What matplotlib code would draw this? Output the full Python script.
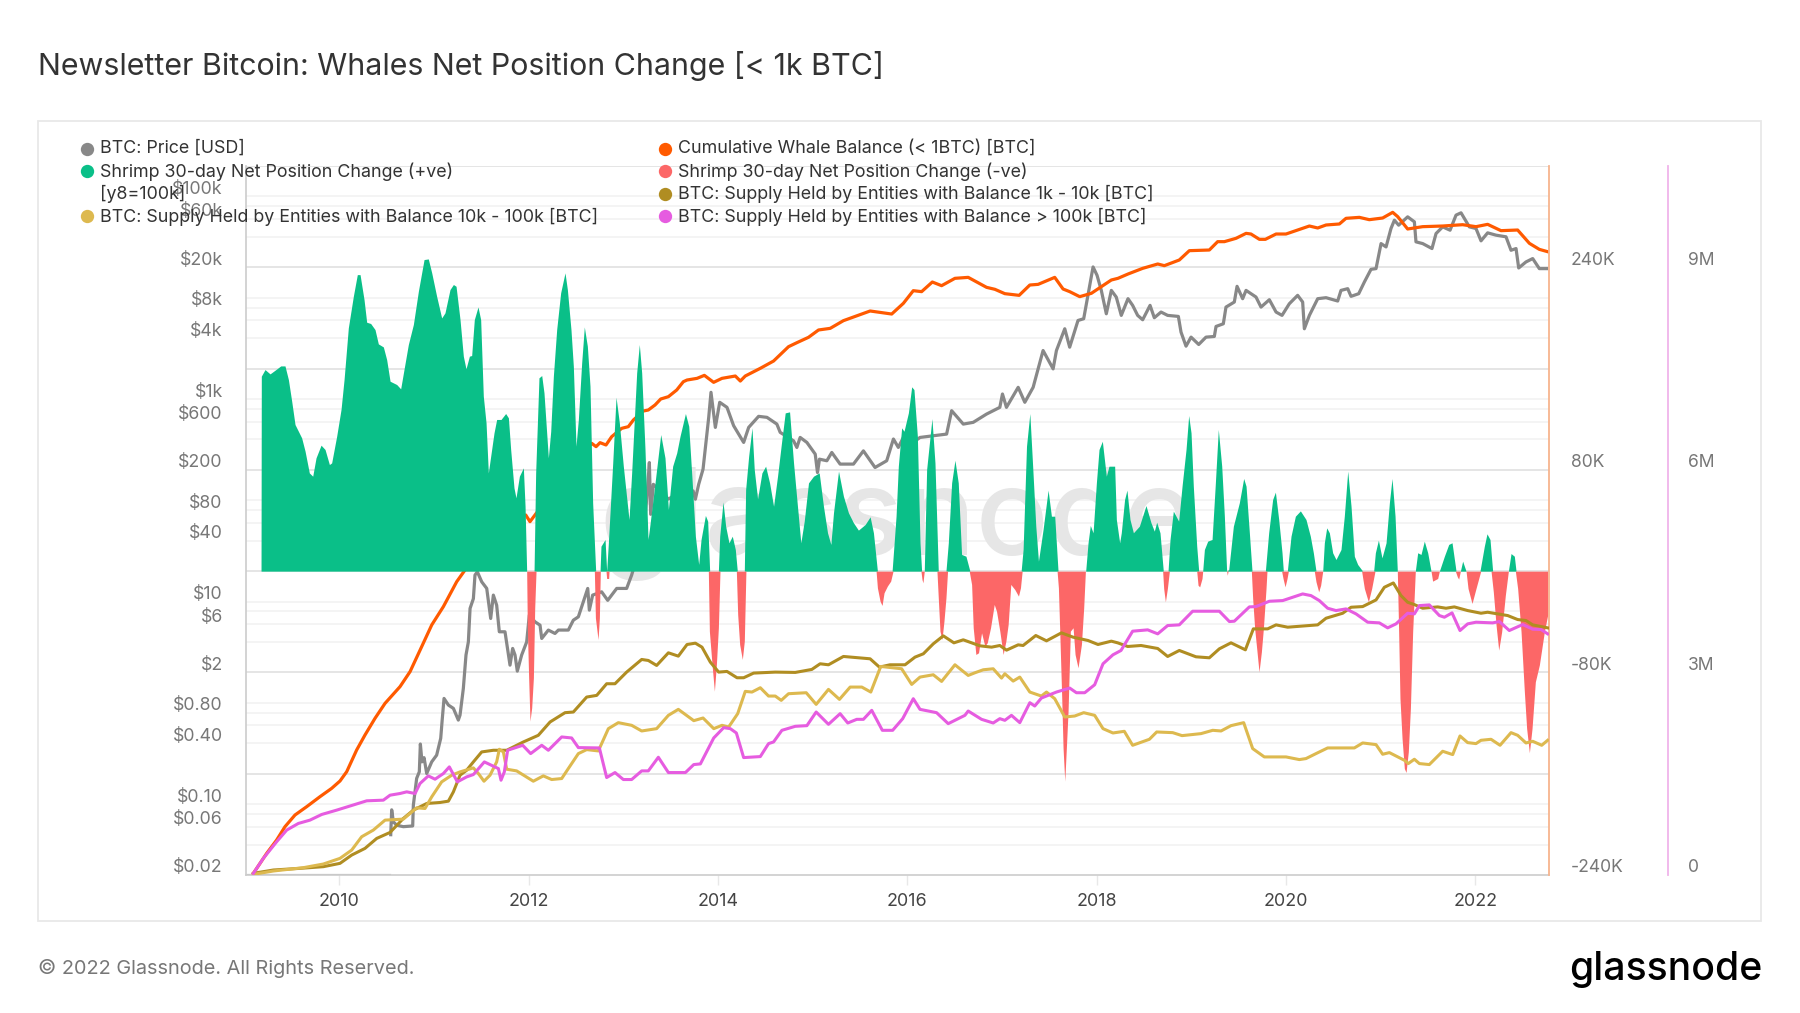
import numpy as np
import matplotlib
matplotlib.use("Agg")
import matplotlib.pyplot as plt
from matplotlib.transforms import ScaledTranslation

plt.rcParams["font.family"] = ["Inter", "DejaVu Sans"]

# (decimal year, value)
price_floor_usd = [(2009.01, 0.02), (2010.54, 0.02)]
price_usd = [
    (2010.543, 0.050), (2010.553, 0.088), (2010.571, 0.067), (2010.606, 0.062),
    (2010.676, 0.060), (2010.775, 0.061), (2010.782, 0.098), (2010.817, 0.18), (2010.845, 0.209), (2010.856, 0.393),
    (2010.873, 0.262), (2010.895, 0.288), (2010.923, 0.201), (2010.976, 0.262), (2011.028, 0.305), (2011.071, 0.447),
    (2011.085, 0.652), (2011.106, 1.107), (2011.152, 0.953), (2011.205, 0.883), (2011.257, 0.677), (2011.275, 0.758),
    (2011.310, 1.39), (2011.338, 2.97), (2011.363, 4.0), (2011.381, 8.57), (2011.416, 10.7), (2011.433, 18.3),
    (2011.458, 19.7), (2011.504, 15.7), (2011.557, 13.5), (2011.599, 6.82), (2011.627, 11.6), (2011.662, 9.23),
    (2011.690, 5.04), (2011.750, 5.04), (2011.803, 2.36), (2011.831, 3.45), (2011.856, 2.97), (2011.880, 2.06),
    (2011.926, 2.97), (2011.979, 4.0), (2012.007, 7.36), (2012.067, 6.32), (2012.120, 5.86), (2012.138, 4.33),
    (2012.208, 5.24), (2012.278, 4.85), (2012.314, 5.24), (2012.419, 5.24), (2012.472, 6.56), (2012.525, 7.08),
    (2012.578, 9.96), (2012.624, 13.5), (2012.641, 8.24), (2012.676, 11.6), (2012.771, 12.5), (2012.835, 10.3),
    (2012.930, 13.5), (2013.035, 13.5), (2013.088, 18.3), (2013.194, 39.6), (2013.229, 67.5), (2013.254, 124),
    (2013.275, 236), (2013.289, 72.8), (2013.317, 144), (2013.476, 103), (2013.600, 120), (2013.737, 124),
    (2013.761, 102.6), (2013.796, 144), (2013.842, 203), (2013.867, 333), (2013.902, 660), (2013.926, 1166),
    (2013.972, 525), (2014.018, 929), (2014.095, 828), (2014.165, 546), (2014.271, 373), (2014.324, 525),
    (2014.429, 675), (2014.517, 660), (2014.622, 566), (2014.657, 469), (2014.798, 387), (2014.833, 333),
    (2014.868, 418), (2014.939, 373), (2015.027, 286), (2015.051, 188), (2015.072, 255), (2015.150, 246),
    (2015.202, 297), (2015.290, 228), (2015.431, 228), (2015.536, 308), (2015.659, 211), (2015.782, 246),
    (2015.853, 403), (2015.905, 333), (2015.976, 451), (2016.063, 373), (2016.134, 418), (2016.415, 451),
    (2016.468, 768), (2016.591, 566), (2016.696, 589), (2016.837, 711), (2016.977, 828), (2017.005, 1122),
    (2017.047, 828), (2017.171, 1306), (2017.241, 929), (2017.329, 1306), (2017.434, 3014), (2017.540, 1986),
    (2017.575, 3014), (2017.663, 4944), (2017.715, 3252), (2017.803, 5971), (2017.863, 6208), (2017.962, 20150),
    (2018.004, 16670), (2018.049, 11830), (2018.102, 6950), (2018.155, 11830), (2018.207, 10160), (2018.260, 6700),
    (2018.331, 9800), (2018.380, 8414), (2018.433, 6700), (2018.486, 6068), (2018.564, 8414), (2018.609, 6352),
    (2018.680, 7228), (2018.750, 6700), (2018.863, 6546), (2018.891, 4581), (2018.944, 3327), (2018.997, 4087),
    (2019.078, 3459), (2019.155, 4087), (2019.243, 4150), (2019.261, 5212), (2019.338, 5536), (2019.366, 8092),
    (2019.454, 9078), (2019.483, 12970), (2019.542, 9794), (2019.578, 11830), (2019.683, 10170), (2019.736, 8092),
    (2019.824, 9570), (2019.895, 7228), (2019.958, 6700), (2020.035, 8730), (2020.123, 10570), (2020.176, 9078),
    (2020.194, 4944), (2020.247, 6700), (2020.335, 9794), (2020.423, 10020), (2020.546, 9290), (2020.581, 11830),
    (2020.652, 12300), (2020.687, 10330), (2020.768, 10970), (2020.828, 14320), (2020.898, 19100), (2020.951, 19400),
    (2021.004, 34280), (2021.057, 31770), (2021.109, 48290), (2021.145, 58360), (2021.190, 52110), (2021.285, 62980),
    (2021.356, 56240), (2021.373, 35650), (2021.444, 34280), (2021.542, 30620), (2021.585, 43080), (2021.655, 50120),
    (2021.733, 46470), (2021.796, 65470), (2021.849, 69000), (2021.937, 50120), (2022.007, 48290), (2022.060, 36480),
    (2022.130, 43760), (2022.219, 41500), (2022.324, 40000), (2022.377, 29450), (2022.430, 30620), (2022.458, 19690),
    (2022.535, 22590), (2022.606, 24380), (2022.676, 19400), (2022.754, 19400),
]

# thousands of BTC
whale_balance_k = [
    (2009.092, 3.3), (2009.233, 42.8), (2009.338, 69.1), (2009.426, 95.4), (2009.532, 118.5), (2009.655, 134.9),
    (2009.796, 154.7), (2009.919, 171.1), (2010.007, 185.6), (2010.078, 204.0), (2010.183, 246.8), (2010.271, 276.4),
    (2010.377, 309.4), (2010.483, 339.0), (2010.641, 371.9), (2010.747, 401.5), (2010.870, 450.9), (2010.976, 493.7),
    (2011.099, 529.9), (2011.240, 579.2), (2011.328, 602.3), (2011.627, 687.8), (2011.969, 710.9), (2012.014, 697.7),
    (2012.067, 710.9), (2012.472, 812.9), (2012.666, 852.4), (2012.712, 845.8), (2012.754, 853.7), (2012.817, 849.1),
    (2012.877, 865.5), (2012.983, 882.0), (2013.053, 885.3), (2013.106, 898.4), (2013.212, 916.2), (2013.264, 918.2),
    (2013.335, 928.1), (2013.395, 939.9), (2013.476, 944.5), (2013.564, 957.7), (2013.634, 974.1), (2013.673, 977.4),
    (2013.779, 980.7), (2013.856, 986.6), (2013.954, 972.8), (2014.042, 980.7), (2014.183, 985.3), (2014.236, 975.4),
    (2014.288, 985.3), (2014.447, 1000.5), (2014.587, 1014.9), (2014.745, 1043.2), (2014.833, 1051.1), (2014.956, 1061.7),
    (2015.062, 1076.2), (2015.185, 1079.4), (2015.325, 1094.6), (2015.607, 1113.7), (2015.835, 1107.7), (2015.958, 1128.8),
    (2016.063, 1153.8), (2016.151, 1151.9), (2016.264, 1170.9), (2016.362, 1163.7), (2016.503, 1178.2), (2016.643, 1180.1),
    (2016.837, 1160.4), (2016.925, 1156.5), (2017.030, 1147.9), (2017.181, 1144.6), (2017.294, 1165.0), (2017.382, 1166.3),
    (2017.557, 1180.1), (2017.645, 1157.1), (2017.715, 1151.9), (2017.821, 1142.0), (2017.944, 1148.6), (2018.049, 1161.7),
    (2018.155, 1174.9), (2018.225, 1178.2), (2018.331, 1186.7), (2018.486, 1197.9), (2018.645, 1206.5), (2018.715, 1203.2),
    (2018.873, 1214.4), (2018.979, 1232.8), (2019.190, 1234.1), (2019.278, 1250.6), (2019.349, 1250.6), (2019.472, 1257.2),
    (2019.578, 1267.0), (2019.630, 1265.7), (2019.719, 1255.2), (2019.782, 1255.2), (2019.895, 1265.7), (2020.000, 1265.7),
    (2020.247, 1281.5), (2020.335, 1277.6), (2020.423, 1283.5), (2020.564, 1285.5), (2020.634, 1296.7), (2020.775, 1298.6),
    (2020.880, 1294.0), (2021.021, 1297.3), (2021.127, 1308.5), (2021.180, 1300.0), (2021.285, 1275.6), (2021.444, 1280.2),
    (2021.655, 1281.5), (2021.866, 1284.1), (2022.007, 1280.2), (2022.130, 1284.8), (2022.271, 1272.3), (2022.447, 1273.6),
    (2022.571, 1247.3), (2022.676, 1235.4), (2022.764, 1230.8),
]

net_positive_k = [
    (2009.173, 0), (2009.176, 154.0), (2009.215, 159.2), (2009.268, 155.8), (2009.321, 158.7), (2009.381, 162.1),
    (2009.426, 162.1), (2009.462, 151.3), (2009.497, 134.2), (2009.532, 115.8), (2009.602, 105.3), (2009.638, 94.8),
    (2009.683, 77.6), (2009.719, 75.0), (2009.754, 89.5), (2009.807, 99.5), (2009.849, 96.1), (2009.895, 84.2),
    (2009.919, 85.5), (2009.972, 106.6), (2010.018, 127.7), (2010.050, 151.3), (2010.095, 192.1), (2010.148, 217.1),
    (2010.190, 234.2), (2010.219, 234.2), (2010.261, 214.5), (2010.289, 196.6), (2010.331, 195.6), (2010.377, 190.8),
    (2010.412, 179.5), (2010.465, 177.1), (2010.500, 167.1), (2010.536, 150.0), (2010.606, 147.4), (2010.648, 144.0),
    (2010.683, 159.2), (2010.729, 179.0), (2010.782, 194.8), (2010.835, 221.1), (2010.895, 246.1), (2010.940, 246.6),
    (2010.976, 235.6), (2011.028, 217.1), (2011.081, 200.0), (2011.116, 204.0), (2011.169, 222.4), (2011.205, 226.4),
    (2011.233, 225.0), (2011.275, 198.7), (2011.310, 169.8), (2011.338, 159.8), (2011.374, 169.8), (2011.398, 170.3),
    (2011.426, 198.7), (2011.465, 208.7), (2011.493, 198.7), (2011.521, 138.2), (2011.550, 117.1), (2011.574, 77.6),
    (2011.599, 90.8), (2011.634, 109.2), (2011.662, 119.8), (2011.708, 119.8), (2011.757, 124.5), (2011.786, 121.1),
    (2011.810, 96.1), (2011.845, 65.8), (2011.866, 57.9), (2011.902, 75.0), (2011.944, 81.6), (2011.962, 51.3),
    (2011.979, 0), (2012.057, 0), (2012.074, 77.6), (2012.109, 152.7), (2012.138, 154.5), (2012.162, 140.8),
    (2012.208, 89.5), (2012.233, 110.5), (2012.261, 154.0), (2012.296, 190.8), (2012.338, 219.8), (2012.384, 235.6),
    (2012.409, 222.4), (2012.447, 190.8), (2012.472, 161.9), (2012.500, 98.7), (2012.525, 119.8), (2012.560, 164.5),
    (2012.588, 192.9), (2012.620, 177.7), (2012.648, 146.1), (2012.676, 54.0), (2012.708, 0), (2012.754, 0),
    (2012.764, 19.7), (2012.807, 25.0), (2012.824, 0), (2012.842, 22.4), (2012.888, 85.5), (2012.923, 137.4),
    (2012.958, 117.1), (2013.000, 82.9), (2013.060, 40.8), (2013.088, 77.6), (2013.141, 156.6), (2013.169, 179.0),
    (2013.194, 156.6), (2013.229, 96.1), (2013.261, 25.0), (2013.275, 32.9), (2013.335, 69.7), (2013.395, 107.9),
    (2013.440, 89.5), (2013.476, 48.7), (2013.521, 82.9), (2013.564, 93.4), (2013.599, 106.6), (2013.656, 124.5),
    (2013.691, 114.5), (2013.726, 72.4), (2013.761, 27.6), (2013.796, 5.3), (2013.821, 25.0), (2013.867, 44.0),
    (2013.891, 39.5), (2013.912, 0), (2014.004, 0), (2014.018, 27.6), (2014.053, 54.7), (2014.081, 35.5),
    (2014.116, 22.4), (2014.151, 27.6), (2014.183, 17.1), (2014.204, 0), (2014.278, 0), (2014.292, 64.5),
    (2014.324, 90.8), (2014.359, 113.2), (2014.383, 80.3), (2014.418, 57.1), (2014.464, 77.6), (2014.503, 82.9),
    (2014.545, 69.7), (2014.587, 51.3), (2014.629, 75.0), (2014.675, 104.0), (2014.710, 125.0), (2014.756, 125.8),
    (2014.798, 85.5), (2014.833, 56.6), (2014.875, 22.4), (2014.911, 39.5), (2014.956, 69.7), (2015.009, 75.0),
    (2015.069, 77.6), (2015.114, 51.3), (2015.157, 30.3), (2015.192, 21.1), (2015.220, 46.1), (2015.273, 79.0),
    (2015.325, 59.2), (2015.378, 46.1), (2015.431, 38.2), (2015.483, 32.4), (2015.554, 36.8), (2015.607, 42.9),
    (2015.642, 30.3), (2015.684, 0), (2015.839, 0), (2015.881, 43.4), (2015.905, 82.9), (2015.940, 113.2),
    (2015.965, 110.5), (2016.011, 125.0), (2016.046, 145.6), (2016.070, 143.4), (2016.106, 106.6), (2016.134, 22.4),
    (2016.151, 0), (2016.179, 0), (2016.204, 80.3), (2016.260, 120.5), (2016.292, 85.5), (2016.327, 0),
    (2016.408, 0), (2016.433, 22.4), (2016.468, 69.7), (2016.503, 87.6), (2016.538, 69.7), (2016.573, 13.2),
    (2016.619, 11.8), (2016.661, 0), (2017.202, 0), (2017.223, 17.1), (2017.259, 98.7), (2017.294, 124.5),
    (2017.322, 85.5), (2017.357, 35.5), (2017.385, 7.9), (2017.434, 32.9), (2017.487, 64.0), (2017.522, 43.4),
    (2017.557, 43.4), (2017.592, 0), (2017.884, 0), (2017.909, 22.4), (2017.933, 36.1), (2017.962, 30.3),
    (2017.997, 69.7), (2018.025, 96.1), (2018.060, 102.6), (2018.102, 75.0), (2018.130, 82.9), (2018.190, 82.9),
    (2018.208, 40.8), (2018.243, 22.4), (2018.260, 30.3), (2018.295, 56.6), (2018.320, 64.0), (2018.352, 40.8),
    (2018.388, 30.3), (2018.451, 35.5), (2018.521, 51.8), (2018.574, 38.2), (2018.609, 31.6), (2018.634, 38.7),
    (2018.669, 30.3), (2018.704, 0), (2018.754, 0), (2018.775, 25.0), (2018.810, 47.4), (2018.866, 39.5),
    (2018.902, 67.1), (2018.944, 96.1), (2018.972, 122.9), (2018.997, 109.2), (2019.021, 67.1), (2019.057, 19.7),
    (2019.078, 0), (2019.120, 0), (2019.138, 17.1), (2019.173, 23.7), (2019.219, 25.0), (2019.254, 69.7),
    (2019.285, 111.9), (2019.321, 82.9), (2019.349, 43.4), (2019.373, 0), (2019.395, 1.3), (2019.444, 35.5),
    (2019.507, 54.0), (2019.553, 73.2), (2019.578, 67.1), (2019.613, 30.3), (2019.641, 0), (2019.782, 0),
    (2019.817, 30.3), (2019.859, 56.6), (2019.888, 62.4), (2019.923, 40.8), (2019.958, 14.5), (2019.972, 0),
    (2020.014, 0), (2020.053, 27.6), (2020.099, 43.4), (2020.152, 47.6), (2020.211, 40.8), (2020.257, 27.6),
    (2020.289, 14.5), (2020.317, 0), (2020.388, 0), (2020.405, 22.4), (2020.430, 34.2), (2020.458, 30.3),
    (2020.493, 14.5), (2020.528, 9.2), (2020.581, 17.1), (2020.616, 43.4), (2020.652, 79.0), (2020.687, 51.3),
    (2020.722, 11.8), (2020.757, 5.3), (2020.810, 0), (2020.926, 0), (2020.944, 14.5), (2020.976, 24.5),
    (2021.014, 10.5), (2021.057, 22.4), (2021.092, 54.0), (2021.120, 73.2), (2021.152, 43.4), (2021.176, 0),
    (2021.366, 0), (2021.391, 14.5), (2021.426, 13.2), (2021.461, 23.7), (2021.497, 14.5), (2021.532, 0),
    (2021.620, 0), (2021.673, 11.8), (2021.719, 21.1), (2021.754, 22.4), (2021.789, 3.9), (2021.796, 0),
    (2021.842, 0), (2021.866, 7.9), (2021.902, 0), (2022.049, 0), (2022.095, 19.7), (2022.123, 29.5),
    (2022.155, 25.0), (2022.183, 0), (2022.349, 0), (2022.377, 13.9), (2022.412, 11.8), (2022.430, 0),
]

net_negative_k = [
    (2011.979, 0), (2011.986, -44.7), (2012.000, -84.2), (2012.014, -118.4), (2012.032, -107.9), (2012.050, -84.2),
    (2012.064, -29.0), (2012.078, 0), (2012.694, 0), (2012.705, -36.8), (2012.733, -54.0), (2012.747, -36.8),
    (2012.757, 0), (2012.817, 0), (2012.824, -5.8), (2012.845, -5.8), (2012.849, 0), (2013.898, 0),
    (2013.909, -47.4), (2013.937, -73.7), (2013.962, -94.8), (2013.983, -73.7), (2014.004, -44.7), (2014.021, 0),
    (2014.194, 0), (2014.208, -34.2), (2014.229, -57.9), (2014.257, -69.7), (2014.278, -55.3), (2014.295, 0),
    (2015.670, 0), (2015.684, -13.2), (2015.712, -23.7), (2015.733, -27.1), (2015.754, -17.1), (2015.789, -11.8),
    (2015.824, -7.9), (2015.849, 0), (2016.144, 0), (2016.155, -6.6), (2016.165, -9.2), (2016.179, 0),
    (2016.313, 0), (2016.327, -21.1), (2016.345, -47.4), (2016.366, -54.0), (2016.387, -39.5), (2016.408, -21.1),
    (2016.425, 0), (2016.654, 0), (2016.679, -10.5), (2016.696, -44.7), (2016.724, -65.8), (2016.752, -64.5),
    (2016.784, -48.7), (2016.819, -59.2), (2016.844, -56.6), (2016.879, -44.7), (2016.918, -26.3), (2016.942, -31.6),
    (2016.977, -47.4), (2017.012, -65.8), (2017.041, -55.3), (2017.065, -42.1), (2017.093, -10.5), (2017.135, -14.5),
    (2017.174, -19.7), (2017.195, -13.2), (2017.213, 0), (2017.582, 0), (2017.596, -13.2), (2017.610, -47.4),
    (2017.631, -100.0), (2017.645, -139.5), (2017.663, -165.8), (2017.680, -139.5), (2017.698, -110.5), (2017.722, -47.4),
    (2017.751, -44.7), (2017.772, -65.8), (2017.803, -76.3), (2017.839, -57.9), (2017.863, -29.0), (2017.881, 0),
    (2018.697, 0), (2018.708, -13.7), (2018.726, -24.2), (2018.747, -13.7), (2018.768, 0), (2019.057, 0),
    (2019.071, -11.1), (2019.088, -12.4), (2019.113, -5.8), (2019.120, 0), (2019.373, 0), (2019.380, -3.2),
    (2019.388, 0), (2019.634, 0), (2019.648, -21.6), (2019.669, -45.3), (2019.694, -63.7), (2019.715, -79.5),
    (2019.740, -63.7), (2019.761, -45.3), (2019.789, -13.7), (2019.799, 0), (2019.954, 0), (2019.969, -5.8),
    (2019.990, -12.4), (2020.011, -5.8), (2020.025, 0), (2020.299, 0), (2020.317, -8.4), (2020.345, -16.3),
    (2020.366, -11.1), (2020.388, 0), (2020.799, 0), (2020.828, -13.7), (2020.870, -24.2), (2020.905, -13.7),
    (2020.940, 0), (2021.176, 0), (2021.190, -47.9), (2021.204, -100.5), (2021.226, -132.1), (2021.250, -155.8),
    (2021.268, -159.0), (2021.292, -142.7), (2021.314, -108.4), (2021.338, -47.9), (2021.366, 0), (2021.532, 0),
    (2021.549, -7.9), (2021.602, -5.8), (2021.620, 0), (2021.789, 0), (2021.810, -4.5), (2021.824, -6.3),
    (2021.842, 0), (2021.902, 0), (2021.923, -13.7), (2021.965, -25.5), (2022.007, -13.7), (2022.057, 0),
    (2022.166, 0), (2022.190, -16.3), (2022.219, -42.6), (2022.247, -62.4), (2022.278, -47.9), (2022.317, -19.0),
    (2022.349, 0), (2022.423, 0), (2022.447, -13.7), (2022.483, -47.9), (2022.518, -95.3), (2022.542, -124.2),
    (2022.571, -143.4), (2022.599, -124.2), (2022.634, -87.4), (2022.676, -74.2), (2022.729, -47.9), (2022.764, -34.7),
]

supply_1k_10k = [
    (2009.092, 24.6), (2009.303, 73.9), (2009.585, 98.5), (2009.831, 123.2), (2010.007, 172.4), (2010.131, 295.6),
    (2010.271, 394.1), (2010.395, 541.9), (2010.536, 630.5), (2010.676, 837.4), (2010.782, 960.6), (2010.923, 1059.1),
    (2011.064, 1073.9), (2011.152, 1093.6), (2011.205, 1231.5), (2011.275, 1477.8), (2011.345, 1551.7), (2011.416, 1674.8),
    (2011.504, 1822.6), (2011.627, 1847.3), (2011.768, 1847.3), (2011.944, 1970.4), (2012.102, 2068.9), (2012.226, 2266.0),
    (2012.384, 2403.9), (2012.472, 2413.7), (2012.613, 2635.4), (2012.719, 2660.0), (2012.824, 2832.5), (2012.912, 2832.5),
    (2013.035, 3004.9), (2013.194, 3192.0), (2013.264, 3177.3), (2013.352, 3103.4), (2013.476, 3290.6), (2013.581, 3241.3),
    (2013.673, 3413.7), (2013.761, 3433.4), (2013.831, 3374.3), (2013.919, 3152.6), (2014.007, 3004.9), (2014.095, 3014.7),
    (2014.201, 2921.1), (2014.271, 2921.1), (2014.376, 2990.1), (2014.605, 3004.9), (2014.816, 3000.0), (2014.991, 3044.3),
    (2015.079, 3128.0), (2015.167, 3113.2), (2015.325, 3236.4), (2015.607, 3201.9), (2015.705, 3078.8), (2015.817, 3113.2),
    (2015.976, 3113.2), (2016.081, 3226.5), (2016.169, 3275.8), (2016.274, 3423.6), (2016.380, 3541.8), (2016.492, 3438.3),
    (2016.591, 3482.7), (2016.767, 3394.0), (2016.890, 3374.3), (2016.977, 3398.9), (2017.048, 3330.0), (2017.171, 3408.8),
    (2017.223, 3398.9), (2017.357, 3546.7), (2017.470, 3467.9), (2017.628, 3586.1), (2017.751, 3522.1), (2017.909, 3472.8),
    (2018.014, 3413.7), (2018.155, 3463.0), (2018.222, 3438.3), (2018.328, 3384.2), (2018.469, 3398.9), (2018.645, 3354.6),
    (2018.750, 3236.4), (2018.873, 3325.1), (2019.049, 3231.5), (2019.190, 3216.7), (2019.296, 3349.7), (2019.419, 3438.3),
    (2019.571, 3334.9), (2019.655, 3645.2), (2019.806, 3645.2), (2019.895, 3704.4), (2020.018, 3669.9), (2020.335, 3704.4),
    (2020.423, 3802.9), (2020.599, 3876.8), (2020.687, 3965.4), (2020.810, 3975.3), (2020.951, 4073.8), (2021.039, 4261.0),
    (2021.134, 4325.0), (2021.215, 4137.8), (2021.285, 4039.3), (2021.356, 4004.8), (2021.444, 3950.7), (2021.602, 3970.4),
    (2021.690, 3950.7), (2021.778, 3970.4), (2021.919, 3916.2), (2022.060, 3876.8), (2022.130, 3891.5), (2022.342, 3842.3),
    (2022.447, 3783.2), (2022.535, 3768.4), (2022.606, 3704.4), (2022.764, 3660.0),
]

supply_10k_100k = [
    (2009.092, 9.9), (2009.303, 59.1), (2009.620, 108.4), (2009.831, 162.6), (2010.007, 246.3), (2010.131, 369.5),
    (2010.236, 566.5), (2010.359, 665.0), (2010.483, 812.8), (2010.676, 827.6), (2010.817, 995.1), (2010.905, 985.2),
    (2010.976, 1157.6), (2011.081, 1379.3), (2011.187, 1477.8), (2011.275, 1527.1), (2011.416, 1586.2), (2011.469, 1502.4),
    (2011.528, 1389.1), (2011.592, 1477.8), (2011.662, 1674.8), (2011.690, 1862.0), (2011.733, 1822.6), (2011.768, 1566.5),
    (2011.873, 1541.8), (2012.049, 1389.1), (2012.155, 1467.9), (2012.243, 1413.8), (2012.349, 1428.5), (2012.419, 1576.3),
    (2012.525, 1798.0), (2012.613, 1857.1), (2012.736, 1837.4), (2012.842, 2167.4), (2012.947, 2256.1), (2013.088, 2216.7),
    (2013.194, 2133.0), (2013.352, 2167.4), (2013.476, 2364.5), (2013.581, 2453.1), (2013.744, 2285.7), (2013.842, 2325.1),
    (2013.955, 2167.4), (2014.042, 2216.7), (2014.113, 2192.1), (2014.208, 2389.1), (2014.288, 2719.2), (2014.359, 2709.3),
    (2014.447, 2773.3), (2014.534, 2650.2), (2014.605, 2650.2), (2014.668, 2586.2), (2014.745, 2684.7), (2014.932, 2699.4),
    (2015.037, 2527.0), (2015.167, 2748.7), (2015.283, 2600.9), (2015.396, 2783.2), (2015.519, 2783.2), (2015.614, 2709.3),
    (2015.719, 3088.6), (2015.940, 3054.1), (2016.046, 2822.6), (2016.134, 2931.0), (2016.274, 2965.5), (2016.362, 2866.9),
    (2016.503, 3113.2), (2016.643, 2955.6), (2016.714, 2995.0), (2016.802, 3039.3), (2016.907, 3054.1), (2016.995, 2916.2),
    (2017.030, 2980.2), (2017.118, 2871.9), (2017.188, 2931.0), (2017.294, 2709.3), (2017.416, 2650.2), (2017.470, 2709.3),
    (2017.557, 2610.8), (2017.663, 2339.9), (2017.768, 2354.6), (2017.863, 2403.9), (2017.979, 2364.5), (2018.067, 2167.4),
    (2018.172, 2103.4), (2018.292, 2128.0), (2018.380, 1921.1), (2018.557, 2009.8), (2018.634, 2118.2), (2018.803, 2108.3),
    (2018.902, 2064.0), (2019.102, 2093.6), (2019.226, 2142.8), (2019.314, 2133.0), (2019.419, 2211.8), (2019.553, 2256.1),
    (2019.648, 1871.9), (2019.771, 1748.7), (2020.000, 1748.7), (2020.141, 1709.3), (2020.211, 1724.1), (2020.317, 1798.0),
    (2020.440, 1881.7), (2020.722, 1881.7), (2020.810, 1955.6), (2020.951, 1931.0), (2021.021, 1788.1), (2021.092, 1812.8),
    (2021.250, 1699.5), (2021.292, 1650.2), (2021.356, 1714.2), (2021.409, 1650.2), (2021.514, 1635.4), (2021.655, 1832.5),
    (2021.761, 1783.2), (2021.838, 2059.1), (2021.919, 1960.5), (2022.007, 1945.8), (2022.060, 1995.0), (2022.166, 2009.8),
    (2022.261, 1921.1), (2022.377, 2108.3), (2022.447, 2068.9), (2022.535, 1955.6), (2022.606, 1980.3), (2022.701, 1921.1),
    (2022.764, 1995.0),
]

supply_over_100k = [
    (2009.092, 24.6), (2009.197, 246.3), (2009.338, 492.6), (2009.444, 665.0), (2009.567, 763.5), (2009.690, 812.8),
    (2009.814, 896.5), (2009.972, 960.6), (2010.289, 1098.5), (2010.465, 1108.4), (2010.536, 1182.2), (2010.641, 1206.9),
    (2010.712, 1231.5), (2010.800, 1206.9), (2010.852, 1354.7), (2010.940, 1467.9), (2011.011, 1418.7), (2011.099, 1502.4),
    (2011.162, 1601.0), (2011.247, 1379.3), (2011.345, 1453.2), (2011.416, 1487.7), (2011.532, 1674.8), (2011.680, 1576.3),
    (2011.708, 1403.9), (2011.743, 1527.1), (2011.778, 1847.3), (2011.937, 1921.1), (2012.021, 1798.0), (2012.138, 1921.1),
    (2012.208, 1847.3), (2012.349, 2044.3), (2012.454, 2029.5), (2012.525, 1886.7), (2012.747, 1881.7), (2012.824, 1443.3),
    (2012.912, 1517.2), (2013.000, 1413.8), (2013.088, 1413.8), (2013.194, 1541.8), (2013.264, 1541.8), (2013.370, 1743.8),
    (2013.476, 1517.2), (2013.656, 1517.2), (2013.744, 1635.4), (2013.814, 1645.3), (2013.955, 2029.5), (2014.060, 2182.2),
    (2014.130, 2167.4), (2014.194, 2103.4), (2014.271, 1738.9), (2014.447, 1753.7), (2014.534, 1945.8), (2014.587, 1970.4),
    (2014.675, 2142.8), (2014.816, 2201.9), (2014.939, 2211.8), (2015.037, 2413.7), (2015.167, 2231.5), (2015.290, 2389.1),
    (2015.371, 2251.2), (2015.466, 2305.4), (2015.536, 2305.4), (2015.624, 2438.4), (2015.736, 2142.8), (2015.845, 2142.8),
    (2015.951, 2315.2), (2016.063, 2610.8), (2016.134, 2453.1), (2016.309, 2403.9), (2016.432, 2241.3), (2016.608, 2364.5),
    (2016.643, 2428.5), (2016.784, 2305.4), (2016.907, 2251.2), (2016.977, 2315.2), (2017.030, 2290.6), (2017.100, 2364.5),
    (2017.188, 2256.1), (2017.294, 2551.7), (2017.346, 2502.4), (2017.416, 2620.6), (2017.575, 2709.3), (2017.715, 2768.4),
    (2017.786, 2699.4), (2017.874, 2699.4), (2017.979, 2817.7), (2018.067, 3128.0), (2018.172, 3261.0), (2018.257, 3325.1),
    (2018.380, 3610.8), (2018.539, 3630.5), (2018.645, 3571.4), (2018.750, 3694.5), (2018.873, 3704.4), (2019.014, 3906.3),
    (2019.296, 3906.3), (2019.402, 3753.6), (2019.454, 3758.5), (2019.613, 3970.4), (2019.683, 3975.3), (2019.824, 4054.1),
    (2019.965, 4064.0), (2020.176, 4162.5), (2020.264, 4137.8), (2020.352, 4064.0), (2020.440, 3950.7), (2020.528, 3916.2),
    (2020.634, 3940.8), (2020.740, 3866.9), (2020.863, 3743.8), (2020.986, 3733.9), (2021.074, 3660.0), (2021.162, 3719.1),
    (2021.285, 3876.8), (2021.356, 3866.9), (2021.409, 3990.1), (2021.514, 4000.0), (2021.620, 3842.3), (2021.673, 3817.7),
    (2021.754, 3881.7), (2021.838, 3620.6), (2021.919, 3719.1), (2022.007, 3743.8), (2022.183, 3733.9), (2022.254, 3753.6),
    (2022.359, 3620.6), (2022.500, 3709.3), (2022.606, 3640.4), (2022.694, 3635.4), (2022.764, 3571.4),
]

year_ticks = [2010, 2012, 2014, 2016, 2018, 2020, 2022]
price_ticks = [0.02, 0.06, 0.1, 0.4, 0.8, 2, 6, 10, 40, 80, 200, 600, 1000, 4000, 8000, 20000, 60000, 100000]
price_tick_labels = ["$0.02", "$0.06", "$0.10", "$0.40", "$0.80", "$2", "$6", "$10", "$40", "$80", "$200", "$600",
                     "$1k", "$4k", "$8k", "$20k", "$60k", "$100k"]
grid_major = [0.2, 2, 20, 200, 2000, 20000, 200000]
grid_minor = [0.04, 0.06, 0.08, 0.1, 0.4, 0.6, 0.8, 1, 4, 6, 8, 10, 40, 60, 80, 100, 400, 600, 800, 1000,
              4000, 6000, 8000, 10000, 40000, 60000, 80000, 100000]
net_ticks = [-240, -80, 80, 240]
net_tick_labels = ["-240K", "-80K", "80K", "240K"]
supply_ticks = [0, 3000, 6000, 9000]
supply_tick_labels = ["0", "3M", "6M", "9M"]

legend_rows = [
    ("#888888", "BTC: Price [USD]", 86.7, 148.7),
    ("#ff5a00", "Cumulative Whale Balance (< 1BTC) [BTC]", 665, 148.7),
    ("#0abf88", "Shrimp 30-day Net Position Change (+ve)\n[y8=100k]", 86.7, 171),
    ("#fc6767", "Shrimp 30-day Net Position Change (-ve)", 665, 171),
    ("#b08d22", "BTC: Supply Held by Entities with Balance 1k - 10k [BTC]", 665, 193.5),
    ("#ddb94f", "BTC: Supply Held by Entities with Balance 10k - 100k [BTC]", 86.7, 216),
    ("#e65ce0", "BTC: Supply Held by Entities with Balance > 100k [BTC]", 665, 216),
]

W, H = 1800, 1013
fig = plt.figure(figsize=(W / 100, H / 100), dpi=100)
fig.patch.set_facecolor("white")

box = [245.7 / W, 1 - 875 / H, 1303 / W, 709 / H]
ax = fig.add_axes(box)
ax.set_xlim(2009.011, 2022.775)
ax.set_yscale("log")
ax.set_ylim(0.02, 200000)

# grid below everything
ax.hlines(grid_minor, 2009.011, 2022.775, color="#f3f3f3", lw=1.3, zorder=0)
ax.hlines(grid_major, 2009.011, 2022.775, color="#e3e3e3", lw=1.3, zorder=0)

# watermark
ax.text(0.5, 0.495, "glassnode", transform=ax.transAxes, ha="center", va="center",
        fontsize=87, fontweight="medium", color="#e6e6e6", zorder=0.5)

x, y = np.array(price_floor_usd).T
ax.plot(x, y, color="#bbbbbb", lw=1.6, zorder=2)
x, y = np.array(price_usd).T
ax.plot(x, y, color="#888888", lw=2.3, zorder=2, solid_joinstyle="round")

ax.set_xticks(year_ticks)
ax.set_xticklabels([str(v) for v in year_ticks], fontsize=12.9, color="#444444")
ax.set_yticks(price_ticks)
ax.set_yticklabels(price_tick_labels, fontsize=12.8, color="#777777")
ax.tick_params(axis="x", length=7, width=1, color="#e8e8e8", pad=6)
ax.tick_params(axis="y", length=0, pad=16.5)
ax.minorticks_off()
for s in ["top", "right"]:
    ax.spines[s].set_visible(False)
for s in ["left", "bottom"]:
    ax.spines[s].set_color("#cccccc")
    ax.spines[s].set_linewidth(1.2)

# labels sit above their grid line
lift = ScaledTranslation(0, 9 / 100, fig.dpi_scale_trans)
for lab in ax.get_yticklabels():
    lab.set_transform(lab.get_transform() + lift)

ax_whale = ax.twinx()
ax_whale.set_ylim(0, 1400)
ax_whale.axis("off")
x, y = np.array(whale_balance_k).T
ax_whale.plot(x, y, color="#ff5a00", lw=2.3)

ax_net = ax.twinx()
ax_net.set_ylim(-240, 320)
x, y = np.array(net_positive_k).T
ax_net.fill_between(x, 0, y, color="#0abf88", lw=0)
x, y = np.array(net_negative_k).T
ax_net.fill_between(x, 0, y, color="#fc6767", lw=0)
ax_net.set_yticks(net_ticks)
ax_net.set_yticklabels(net_tick_labels, fontsize=12.6, color="#777777")
ax_net.tick_params(axis="y", length=0, pad=15.8)
for s in ["top", "left", "bottom"]:
    ax_net.spines[s].set_visible(False)
ax_net.spines["right"].set_color("#f7b48e")
ax_net.spines["right"].set_linewidth(1.3)

ax_supply = ax.twinx()
ax_supply.spines["right"].set_position(("outward", 119 * 0.72))
ax_supply.set_ylim(0, 10500)
x, y = np.array(supply_1k_10k).T
ax_supply.plot(x, y, color="#b08d22", lw=2.2)
x, y = np.array(supply_10k_100k).T
ax_supply.plot(x, y, color="#ddb94f", lw=2.2)
x, y = np.array(supply_over_100k).T
ax_supply.plot(x, y, color="#e65ce0", lw=2.2)
ax_supply.set_yticks(supply_ticks)
ax_supply.set_yticklabels(supply_tick_labels, fontsize=12.6, color="#777777")
ax_supply.tick_params(axis="y", length=0, pad=14.8)
for s in ["top", "left", "bottom"]:
    ax_supply.spines[s].set_visible(False)
ax_supply.spines["right"].set_color("#f0b4ea")
ax_supply.spines["right"].set_linewidth(1.3)

for a in (ax_net, ax_supply):
    for lab in a.get_yticklabels():
        lab.set_transform(lab.get_transform() + lift)

# overlay in pixel units for card frame, title, legend, footer
page = fig.add_axes([0, 0, 1, 1], zorder=10)
page.set_xlim(0, W)
page.set_ylim(H, 0)
page.axis("off")
page.patch.set_alpha(0)

page.add_patch(plt.Rectangle((38, 120.7), 1723, 800.3, fill=False, ec="#e8e8e8", lw=1.3))
page.text(38, 66, "Newsletter Bitcoin: Whales Net Position Change [< 1k BTC]", fontsize=21.9,
          fontweight="normal", color="#333333", va="center", ha="left")

for color, label, mx, my in legend_rows:
    page.scatter([mx], [my], s=92, color=color, lw=0)
    page.text(mx + 13.5, my - 8.5, label, fontsize=12.85, color="#333333", va="top", ha="left", linespacing=1.25)

page.text(38, 968, "\u00a9 2022 Glassnode. All Rights Reserved.", fontsize=14.35, color="#777777",
          va="center", ha="left")
page.text(1762, 969, "glassnode", fontsize=28.2, fontweight="medium", color="black", va="center", ha="right")

fig.savefig("out.png", dpi=100)
